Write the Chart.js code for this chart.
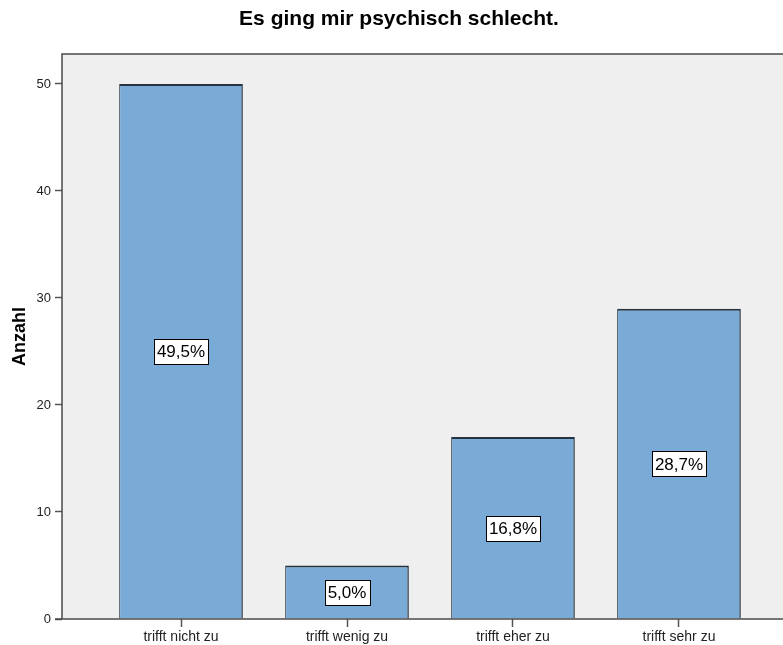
<!DOCTYPE html>
<html>
<head>
<meta charset="utf-8">
<script src="https://cdn.jsdelivr.net/npm/chart.js@4.4.1/dist/chart.umd.min.js"></script>
<style>
html,body{margin:0;padding:0;background:#fff;overflow:hidden;width:783px;height:645px;}
#wrap{width:800px;height:645px;}
</style>
</head>
<body>
<div id="wrap"><canvas id="c" width="800" height="645"></canvas></div>
<script>
const categories = ["trifft nicht zu", "trifft wenig zu", "trifft eher zu", "trifft sehr zu"];
const counts = [50, 5, 17, 29];
const percentLabels = ["49,5%", "5,0%", "16,8%", "28,7%"];
const yTicks = [0, 10, 20, 30, 40, 50];
const chartTitle = "Es ging mir psychisch schlecht.";
const yAxisTitle = "Anzahl";

const FONT = "'Liberation Sans', Arial, sans-serif";

const plotBg = {
  id: 'plotBg',
  beforeDraw(chart) {
    const {ctx, chartArea: a} = chart;
    ctx.save();
    ctx.fillStyle = '#efefef';
    ctx.fillRect(a.left, a.top, a.right - a.left, a.bottom - a.top);
    ctx.restore();
  },
  afterDatasetsDraw(chart) {
    const {ctx, chartArea: a} = chart;
    ctx.save();
    ctx.strokeStyle = '#4a4a4a';
    ctx.lineWidth = 1.5;
    ctx.beginPath();
    ctx.moveTo(a.left, a.bottom);
    ctx.lineTo(a.left, a.top);
    ctx.lineTo(a.right, a.top);
    ctx.stroke();
    ctx.beginPath();
    ctx.moveTo(a.left - 7, a.bottom);
    ctx.lineTo(a.right, a.bottom);
    ctx.stroke();
    ctx.restore();
  }
};

const pctLabels = {
  id: 'pctLabels',
  afterDatasetsDraw(chart) {
    const {ctx, scales} = chart;
    ctx.save();
    ctx.font = "17px " + FONT;
    ctx.textAlign = 'center';
    ctx.textBaseline = 'middle';
    counts.forEach((v, i) => {
      const x = scales.x.getPixelForValue(i);
      const y = scales.y.getPixelForValue(v / 2);
      const t = percentLabels[i];
      const w = ctx.measureText(t).width + 6;
      const h = 25;
      ctx.fillStyle = '#ffffff';
      ctx.fillRect(Math.round(x - w / 2) + 0.5, Math.round(y - h / 2) + 0.5, Math.round(w), h);
      ctx.strokeStyle = '#000';
      ctx.lineWidth = 1;
      ctx.strokeRect(Math.round(x - w / 2) + 0.5, Math.round(y - h / 2) + 0.5, Math.round(w), h);
      ctx.fillStyle = '#000';
      ctx.fillText(t, x, y + 1);
    });
    ctx.restore();
  }
};

new Chart(document.getElementById('c'), {
  type: 'bar',
  data: {
    datasets: [{
      data: counts.map((v, i) => ({x: i, y: v})),
      backgroundColor: '#7aaad6',
      borderColor: '#26323f',
      borderWidth: {top: 2, right: 1.5, left: 1, bottom: 0},
      borderSkipped: false,
      barPercentage: 0.745,
      categoryPercentage: 1.0
    }]
  },
  options: {
    responsive: false,
    animation: false,
    devicePixelRatio: 1,
    layout: {padding: {left: 0, right: 2, top: 0, bottom: 0}},
    plugins: {
      legend: {display: false},
      tooltip: {enabled: false},
      title: {
        display: true,
        text: chartTitle,
        color: '#000',
        font: {family: FONT, size: 21, weight: 'bold'},
        padding: {top: 7, bottom: 21.8}
      }
    },
    scales: {
      x: {
        type: 'linear',
        offset: false,
        bounds: 'ticks',
        min: -0.717,
        max: 3.717,
        afterBuildTicks(scale) { scale.ticks = categories.map((c, i) => ({value: i})); },
        afterFit(scale) { scale.height = 26; },
        ticks: {
          autoSkip: false,
          maxRotation: 0,
          padding: 2,
          color: '#222',
          font: {family: FONT, size: 14},
          callback: (v) => categories[v]
        },
        grid: {display: true, offset: false, drawOnChartArea: false, drawTicks: true, tickLength: 8, tickColor: '#555', tickWidth: 1.5},
        border: {display: false}
      },
      y: {
        min: 0,
        max: 52.8,
        afterBuildTicks(scale) { scale.ticks = yTicks.map(v => ({value: v})); },
        afterFit(scale) { scale.width = 62; },
        ticks: {
          padding: 4,
          color: '#222',
          font: {family: FONT, size: 13}
        },
        title: {
          display: true,
          text: yAxisTitle,
          color: '#000',
          font: {family: FONT, size: 18, weight: 'bold'},
          padding: {top: 9, bottom: 0}
        },
        grid: {display: true, drawOnChartArea: false, drawTicks: true, tickLength: 7, tickColor: '#555', tickWidth: 1.5},
        border: {display: false}
      }
    }
  },
  plugins: [plotBg, pctLabels]
});
</script>
</body>
</html>
